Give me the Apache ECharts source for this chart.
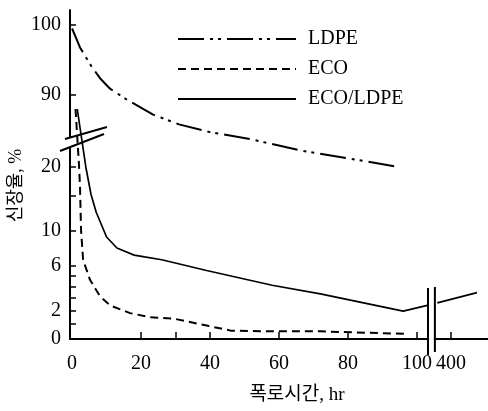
<!DOCTYPE html>
<html>
<head>
<meta charset="utf-8">
<script src="https://cdn.jsdelivr.net/npm/echarts@6/dist/echarts.min.js"></script>
<style>
  html, body { margin: 0; padding: 0; background: #fff; }
  #chart { width: 488px; height: 411px; }
</style>
</head>
<body>
<div id="chart"></div>
<script>
// 시리즈 이름
const seriesNames = ['LDPE', 'ECO', 'ECO/LDPE'];

// LDPE (상단 축, 90~100 구간)
const ldpeHours = [0, 2.3, 5.2, 8.1, 11, 16, 23.5, 31, 40, 51.6, 66, 80.6, 95];
const ldpeValues = [99.5, 96.8, 94.4, 92.4, 90.9, 89.3, 87.2, 85.8, 84.7, 83.7, 82.1, 80.9, 79.7];

// ECO
const ecoHours = [1, 2.0, 2.3, 2.6, 3.2, 5.2, 8.1, 11, 16.8, 22.6, 29.3, 39, 46, 58, 72, 97];
const ecoValues = [88, 20.5, 16.5, 10.1, 6.6, 4.6, 3.15, 2.4, 1.8, 1.5, 1.4, 0.9, 0.55, 0.5, 0.5, 0.33];

// ECO/LDPE (축 끊김 전/후)
const blendHours = [1.5, 4, 5.5, 7, 10, 13, 18, 21, 26, 39, 58, 72, 96, 103];
const blendValues = [88, 20, 15.2, 12.5, 9.2, 7.9, 7.1, 6.9, 6.6, 5.5, 4.1, 3.35, 1.95, 2.4];
const blendHoursLate = [360, 475];
const blendValuesLate = [2.6, 3.45];

// 축 눈금
const yLabelValues = [0, 2, 6, 10, 20, 90, 100];
const yTickValues = [0, 1, 2, 3, 4, 5, 6, 10, 15, 20, 90, 100];
const xLabelValues = [0, 20, 40, 60, 80, 100, 400];
const xTickValues = [20, 30, 40, 60, 80, 100, 400];

// 끊긴 축 변환: 하단은 log(v+10), 상단(90~100)은 선형
const yPos = v => (v > 50 ? 244 + (v - 90) * 7 : 360 * (Math.log10(v + 10) - 1));
const xPos = h => (h > 200 ? 109.9 + (h - 400) * 0.1 : h);

const toData = (hours, values) => hours.map((h, i) => [xPos(h), yPos(values[i])]);
const nearestLabel = (list, fn, v) => {
  let best = list[0];
  list.forEach(t => { if (Math.abs(fn(t) - v) < Math.abs(fn(best) - v)) best = t; });
  return String(best);
};

const serif = '"Liberation Serif", "Noto Sans CJK KR", serif';
const chart = echarts.init(document.getElementById('chart'));

const baseLine = { type: 'line', symbol: 'none', silent: true, z: 3 };

chart.setOption({
  animation: false,
  backgroundColor: '#fff',
  grid: { left: 70, right: 0, top: 10, bottom: 72, outerBoundsMode: 'none', containLabel: false },
  legend: {
    orient: 'vertical',
    left: 172,
    top: 24,
    itemWidth: 118,
    itemHeight: 14,
    itemGap: 10,
    itemStyle: { color: 'rgba(0,0,0,0)', borderWidth: 0, opacity: 0 },
    textStyle: { fontFamily: serif, fontSize: 20, color: '#000', padding: [0, 0, 0, 7] },
    data: seriesNames
  },
  xAxis: {
    type: 'value',
    min: -0.6,
    max: 120.6,
    name: '폭로시간, hr',
    nameLocation: 'middle',
    nameGap: 47,
    nameMoveOverlap: false,
    nameTextStyle: { fontFamily: serif, fontSize: 19, color: '#000', padding: [0, 0, 0, 36] },
    axisLine: { onZero: false, lineStyle: { color: '#000', width: 2 } },
    axisTick: {
      inside: true, length: 7,
      customValues: xTickValues.map(xPos),
      lineStyle: { color: '#000', width: 1.5 }
    },
    axisLabel: {
      customValues: xLabelValues.map(xPos),
      margin: 15,
      fontFamily: serif, fontSize: 20, color: '#000',
      formatter: v => nearestLabel(xLabelValues, xPos, v)
    },
    splitLine: { show: false }
  },
  yAxis: {
    type: 'value',
    min: 0,
    max: 329,
    name: '신장율, %',
    nameLocation: 'middle',
    nameRotate: 90,
    nameGap: 45,
    nameMoveOverlap: false,
    nameTextStyle: { fontFamily: serif, fontSize: 18, color: '#000', padding: [0, 22, 0, 0] },
    axisLine: { onZero: false, lineStyle: { color: '#000', width: 2 } },
    axisTick: {
      inside: true, length: 6,
      customValues: yTickValues.map(yPos),
      lineStyle: { color: '#000', width: 1.5 }
    },
    axisLabel: {
      customValues: yLabelValues.map(yPos),
      margin: 9,
      fontFamily: serif, fontSize: 20, color: '#000',
      formatter: v => nearestLabel(yLabelValues, yPos, v)
    },
    splitLine: { show: false }
  },
  series: [
    Object.assign({}, baseLine, {
      name: seriesNames[0],
      smooth: false,
      lineStyle: { color: '#000', width: 2, type: [26, 6, 3, 5, 3, 6] },
      itemStyle: { color: '#000' },
      data: toData(ldpeHours, ldpeValues)
    }),
    Object.assign({}, baseLine, {
      name: seriesNames[1],
      smooth: false,
      lineStyle: { color: '#000', width: 2, type: [8, 5] },
      itemStyle: { color: '#000' },
      data: toData(ecoHours, ecoValues)
    }),
    Object.assign({}, baseLine, {
      name: seriesNames[2],
      smooth: false,
      lineStyle: { color: '#000', width: 1.7 },
      itemStyle: { color: '#000' },
      data: toData(blendHours, blendValues)
        .concat([[104.2, '-']])
        .concat(toData(blendHoursLate, blendValuesLate))
    })
  ]
});

// 축 끊김 표시
const px = (x, y) => chart.convertToPixel({ gridIndex: 0 }, [x, y]);
const yBreak = px(-0.6, 196);
const xBreakA = px(103.2, 0);
const xBreakB = px(105.2, 0);
const stroke = { stroke: '#000', lineWidth: 2 };

chart.setOption({
  graphic: [
    { type: 'rect', z: 10, shape: { x: yBreak[0] - 4, y: yBreak[1] - 5, width: 8, height: 9 }, style: { fill: '#fff' } },
    { type: 'line', z: 11, shape: { x1: yBreak[0] - 5, y1: yBreak[1] - 4, x2: yBreak[0] + 37, y2: yBreak[1] - 16 }, style: stroke },
    { type: 'line', z: 11, shape: { x1: yBreak[0] - 10, y1: yBreak[1] + 8, x2: yBreak[0] + 34, y2: yBreak[1] - 9 }, style: stroke },
    { type: 'rect', z: 10, shape: { x: xBreakA[0] + 1, y: xBreakA[1] - 4, width: xBreakB[0] - xBreakA[0] - 2, height: 8 }, style: { fill: '#fff' } },
    { type: 'line', z: 11, shape: { x1: xBreakA[0], y1: xBreakA[1] - 51, x2: xBreakA[0], y2: xBreakA[1] + 16 }, style: stroke },
    { type: 'line', z: 11, shape: { x1: xBreakB[0], y1: xBreakB[1] - 52, x2: xBreakB[0], y2: xBreakB[1] + 13 }, style: stroke }
  ]
});
</script>
</body>
</html>
